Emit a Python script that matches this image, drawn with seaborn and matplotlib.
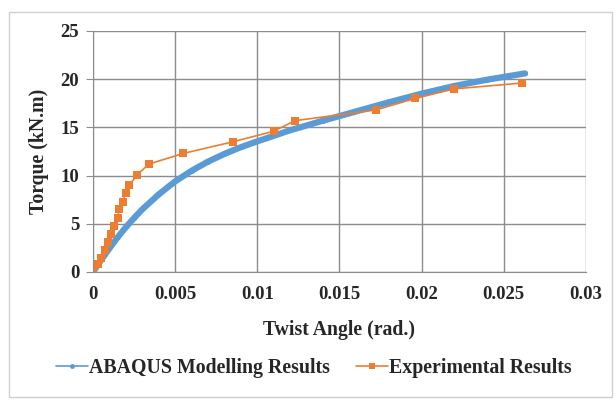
import matplotlib
matplotlib.use("Agg")
import matplotlib.pyplot as plt
from matplotlib.lines import Line2D
import seaborn as sns
import pandas as pd

# ABAQUS model curve
abaqus_angle = [0, 0.0005, 0.001, 0.0015, 0.002, 0.0025, 0.003, 0.004, 0.005, 0.006,
                0.007, 0.008, 0.009, 0.010, 0.012, 0.014, 0.016, 0.018, 0.020, 0.022,
                0.024, 0.0263]
abaqus_torque = [0, 1.25, 2.45, 3.6, 4.65, 5.6, 6.5, 8.05, 9.4, 10.5,
                 11.45, 12.25, 12.95, 13.55, 14.7, 15.7, 16.65, 17.6, 18.5, 19.3,
                 19.95, 20.6]

# experimental points
exp_angle = [0, 0.0003, 0.0005, 0.0007, 0.0009, 0.0011, 0.0013, 0.0015, 0.0016, 0.0018,
             0.0020, 0.0022, 0.0027, 0.0034, 0.0055, 0.0085, 0.0110, 0.0123, 0.0172,
             0.0196, 0.0220, 0.0261]
exp_torque = [0, 0.8, 1.5, 2.3, 3.1, 3.9, 4.8, 5.6, 6.5, 7.3,
              8.2, 9.0, 10.1, 11.2, 12.3, 13.5, 14.6, 15.7, 16.8,
              18.0, 19.0, 19.6]

df_abq = pd.DataFrame({"angle": abaqus_angle, "torque": abaqus_torque})
df_exp = pd.DataFrame({"angle": exp_angle, "torque": exp_torque})

blue = "#5B9BD5"
orange = "#ED7D31"

sns.set_style("white")
plt.rcParams["font.family"] = ["Liberation Serif", "DejaVu Serif"]
plt.rcParams["font.weight"] = "bold"

fig = plt.figure(figsize=(6.16, 4.0), dpi=100)
ax = fig.add_axes([0.151, 0.32, 0.8, 0.6025])

# outer frame of the chart
fig.patches.append(plt.Rectangle((0.0146, 0.0075), 0.979, 0.9625, transform=fig.transFigure,
                                 fill=False, edgecolor="#d0d0d0", linewidth=1.0))

sns.lineplot(data=df_abq, x="angle", y="torque", ax=ax, sort=False, color=blue,
             linewidth=4.5, marker="o", markersize=3.5, markeredgewidth=0, legend=False)
sns.lineplot(data=df_exp, x="angle", y="torque", ax=ax, sort=False, color=orange,
             linewidth=1.2, marker="s", markersize=6, markeredgewidth=0, legend=False)

ax.set_xlim(0, 0.03)
ax.set_ylim(0, 25)
ax.set_xticks([0, 0.005, 0.01, 0.015, 0.02, 0.025, 0.03])
ax.set_xticklabels(["0", "0.005", "0.01", "0.015", "0.02", "0.025", "0.03"])
ax.set_yticks([0, 5, 10, 15, 20, 25])
ax.grid(True, color="#8c8c8c", linewidth=1.0)
for s in ax.spines.values():
    s.set_visible(False)
ax.spines["left"].set_visible(True)
ax.spines["left"].set_color("#8c8c8c")
ax.spines["bottom"].set_visible(True)
ax.spines["bottom"].set_color("#8c8c8c")
ax.tick_params(axis="y", length=5, color="#8c8c8c", labelsize=13.5, pad=5, left=True)
ax.tick_params(axis="x", length=0, labelsize=13.5, pad=10)
for lab in ax.get_xticklabels() + ax.get_yticklabels():
    lab.set_fontweight("bold")

ax.set_xlabel("Twist Angle (rad.)", fontsize=14.2, fontweight="bold", labelpad=12)
ax.set_ylabel("Torque (kN.m)", fontsize=14.2, fontweight="bold", labelpad=8)

handles = [
    Line2D([], [], color=blue, linewidth=1.2, marker="o", markersize=3.5, markeredgewidth=0),
    Line2D([], [], color=orange, linewidth=1.2, marker="s", markersize=5, markeredgewidth=0),
]
ax.legend(handles=handles, labels=["ABAQUS Modelling Results", "Experimental Results"],
          loc="center", bbox_to_anchor=(0.448, -0.40), ncol=2, frameon=False,
          prop={"size": 14.3, "weight": "bold"}, handlelength=1.6, handletextpad=0.05,
          columnspacing=1.3)

fig.savefig("out.png", dpi=100)
